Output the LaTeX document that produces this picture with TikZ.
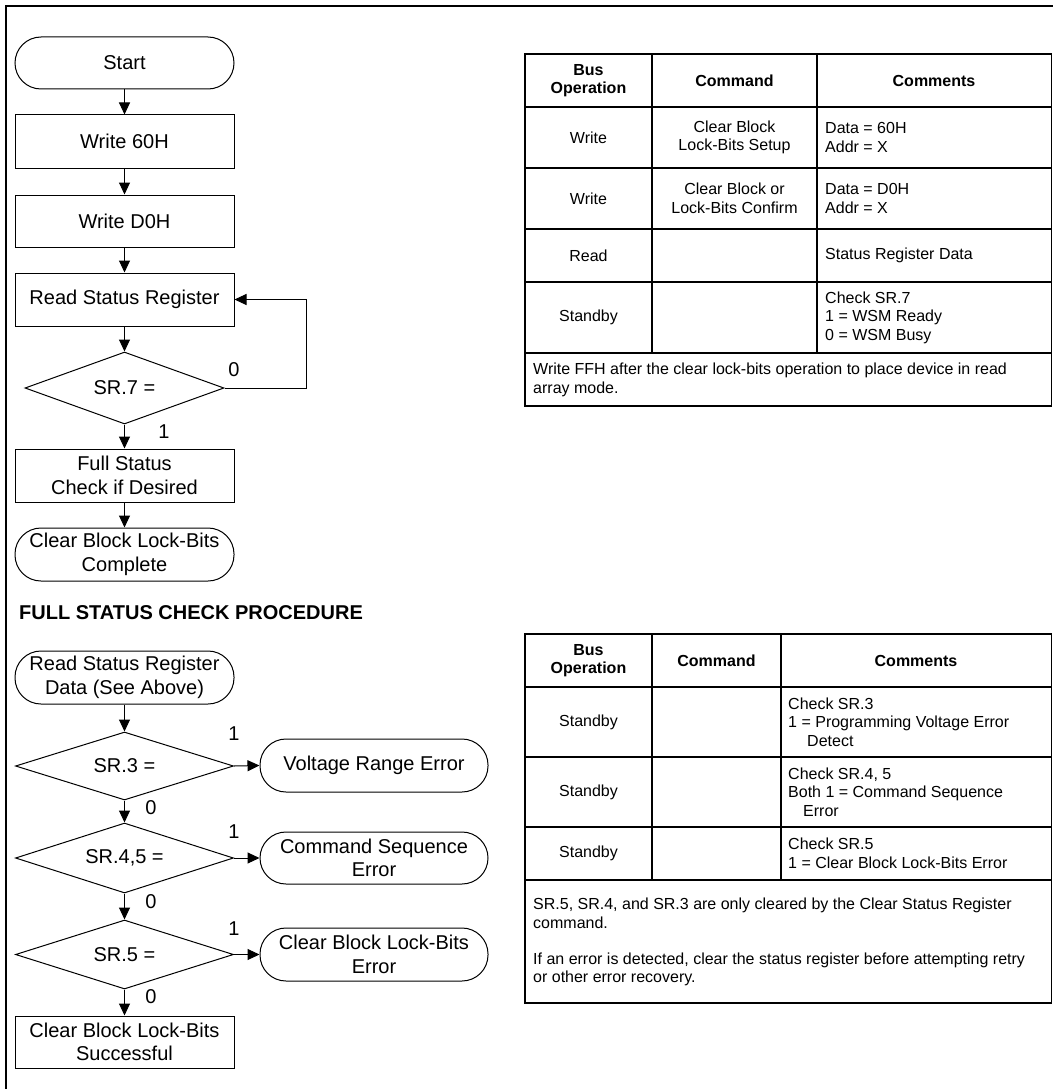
\documentclass[tikz,border=0pt]{standalone}
\usepackage{fontspec}
\setmainfont{Liberation Sans}
\usetikzlibrary{shapes.geometric,arrows.meta}
\begin{document}
\begin{tikzpicture}[x=1pt,y=-1pt,
  fc/.style={font=\fontsize{20}{23.5}\selectfont},
  box/.style={draw,line width=1pt,fc,minimum width=219pt,inner sep=0pt,align=center},
  term/.style={box,rounded corners=26pt},
  dec/.style={draw,line width=1pt,fc,diamond,aspect=2.8,inner sep=0pt},
  arr/.style={line width=1pt,-{Triangle[length=12pt,width=11pt]}},
  lbl/.style={fc,inner sep=0pt},
  tb/.style={font=\fontsize{16}{18.6}\selectfont,inner sep=0pt},
  tbh/.style={font=\fontsize{16}{18.6}\selectfont\bfseries,inner sep=0pt,align=center},
  grid/.style={line width=1.2pt}
]
\useasboundingbox (0,0) rectangle (1053,1089);
% frame
\draw[line width=2pt] (6,1089) -- (6,6) -- (1053,6);

% ---------- upper flowchart ----------
\node[term,minimum height=52pt] (start) at (124.5,63) {Start};
\node[box,minimum height=53pt] (w60) at (124.5,141.5) {Write 60H};
\node[box,minimum height=52pt] (wd0) at (124.5,221) {Write D0H};
\node[box,minimum height=53pt] (rsr) at (124.5,299.5) {Read Status Register};
\node[dec,minimum width=199pt,minimum height=72pt] (sr7) at (124.5,388) {SR.7 =};
\node[box,minimum height=53pt] (fsc) at (124.5,475.5) {Full Status\\Check if Desired};
\node[term,minimum height=53pt] (done) at (124.5,554.5) {Clear Block Lock-Bits\\Complete};

\draw[arr] (start) -- (w60);
\draw[arr] (w60) -- (wd0);
\draw[arr] (wd0) -- (rsr);
\draw[arr] (rsr) -- (sr7);
\draw[arr] (sr7.south) -- (fsc);
\draw[arr] (fsc) -- (done);
\coordinate (loop) at (306,388);
\draw[arr] (sr7.east) -- (loop) |- (rsr.east);
\node[lbl] (l0a) at (234,370) {0};
\node[lbl] (l1a) at (164,432) {1};

% ---------- title ----------
\node[anchor=west,inner sep=0pt,font=\fontsize{20}{23.5}\selectfont\bfseries] (title) at (19,613) {FULL STATUS CHECK PROCEDURE};

% ---------- lower flowchart ----------
\node[term,minimum height=53pt] (rsd) at (124.5,677.5) {Read Status Register\\Data (See Above)};
\node[dec,minimum width=218pt,minimum height=68pt] (sr3) at (124.5,766) {SR.3 =};
\node[dec,minimum width=218pt,minimum height=70pt] (sr45) at (124.5,858) {SR.4,5 =};
\node[dec,minimum width=218pt,minimum height=69pt] (sr5) at (124.5,954.5) {SR.5 =};
\node[box,minimum height=52pt] (succ) at (124.5,1042) {Clear Block Lock-Bits\\Successful};
\node[term,minimum width=228pt,minimum height=53pt] (vre) at (374,765.5) {Voltage Range Error};
\node[term,minimum width=228pt,minimum height=52pt] (cse) at (374,858) {Command Sequence\\Error};
\node[term,minimum width=228pt,minimum height=53pt] (cbe) at (374,954.5) {Clear Block Lock-Bits\\Error};

\draw[arr] (rsd) -- (sr3);
\draw[arr] (sr3.south) -- (sr45.north);
\draw[arr] (sr45.south) -- (sr5.north);
\draw[arr] (sr5.south) -- (succ.north);
\draw[arr] (sr3.east) -- (vre.west);
\draw[arr] (sr45.east) -- (cse.west);
\draw[arr] (sr5.east) -- (cbe.west);
\node[lbl] (l1b) at (234,734) {1};
\node[lbl] (l1c) at (234,832) {1};
\node[lbl] (l1d) at (234,929) {1};
\node[lbl] (l0b) at (151,808) {0};
\node[lbl] (l0c) at (151,902) {0};
\node[lbl] (l0d) at (151,997) {0};

% ---------- table 1 ----------
\draw[grid] (525,54) rectangle (1051.5,406);
\foreach \yy in {107,168,229,282,353} \draw[grid] (525,\yy) -- (1051.5,\yy);
\draw[grid] (652,54) -- (652,353);
\draw[grid] (817,54) -- (817,353);
\node[tbh] (t1h1) at (588.5,80.5) {Bus\\Operation};
\node[tbh] (t1h2) at (734.5,80.5) {Command};
\node[tbh] (t1h3) at (934,80.5) {Comments};
\node[tb] (t1a1) at (588.5,137.5) {Write};
\node[tb,align=center] (t1b1) at (734.5,137.5) {Clear Block\\Lock-Bits Setup};
\node[tb,align=left,anchor=west] (t1c1) at (825,137.5) {Data = 60H\\Addr = X};
\node[tb] (t1a2) at (588.5,198.5) {Write};
\node[tb,align=center] (t1b2) at (734.5,198.5) {Clear Block or\\Lock-Bits Confirm};
\node[tb,align=left,anchor=west] (t1c2) at (825,198.5) {Data = D0H\\Addr = X};
\node[tb] (t1a3) at (588.5,255.5) {Read};
\node[tb,anchor=west] (t1c3) at (825,255.5) {Status Register Data};
\node[tb] (t1a4) at (588.5,317.5) {Standby};
\node[tb,align=left,anchor=west] (t1c4) at (825,317.5) {Check SR.7\\1 = WSM Ready\\0 = WSM Busy};
\node[tb,align=left,anchor=west] (t1f) at (533,380) {Write FFH after the clear lock-bits operation to place device in read\\array mode.};

% ---------- table 2 ----------
\draw[grid] (525,634) rectangle (1051.5,1003);
\foreach \yy in {687,757,827,880} \draw[grid] (525,\yy) -- (1051.5,\yy);
\draw[grid] (652,634) -- (652,880);
\draw[grid] (781,634) -- (781,880);
\node[tbh] (t2h1) at (588.5,660.5) {Bus\\Operation};
\node[tbh] (t2h2) at (716.5,660.5) {Command};
\node[tbh] (t2h3) at (916,660.5) {Comments};
\node[tb] (t2a1) at (588.5,722) {Standby};
\node[tb,align=left,anchor=west] (t2c1) at (788,722) {Check SR.3\\1 = Programming Voltage Error\\\hspace*{19pt}Detect};
\node[tb] (t2a2) at (588.5,792) {Standby};
\node[tb,align=left,anchor=west] (t2c2) at (788,792) {Check SR.4, 5\\Both 1 = Command Sequence\\\hspace*{15pt}Error};
\node[tb] (t2a3) at (588.5,853.5) {Standby};
\node[tb,align=left,anchor=west] (t2c3) at (788,853.5) {Check SR.5\\1 = Clear Block Lock-Bits Error};
\node[tb,align=left,anchor=west] (t2f1) at (533,913.5) {SR.5, SR.4, and SR.3 are only cleared by the Clear Status Register\\command.};
\node[tb,align=left,anchor=west] (t2f2) at (533,969.5) {If an error is detected, clear the status register before attempting retry\\or other error recovery.};
\end{tikzpicture}
\end{document}
